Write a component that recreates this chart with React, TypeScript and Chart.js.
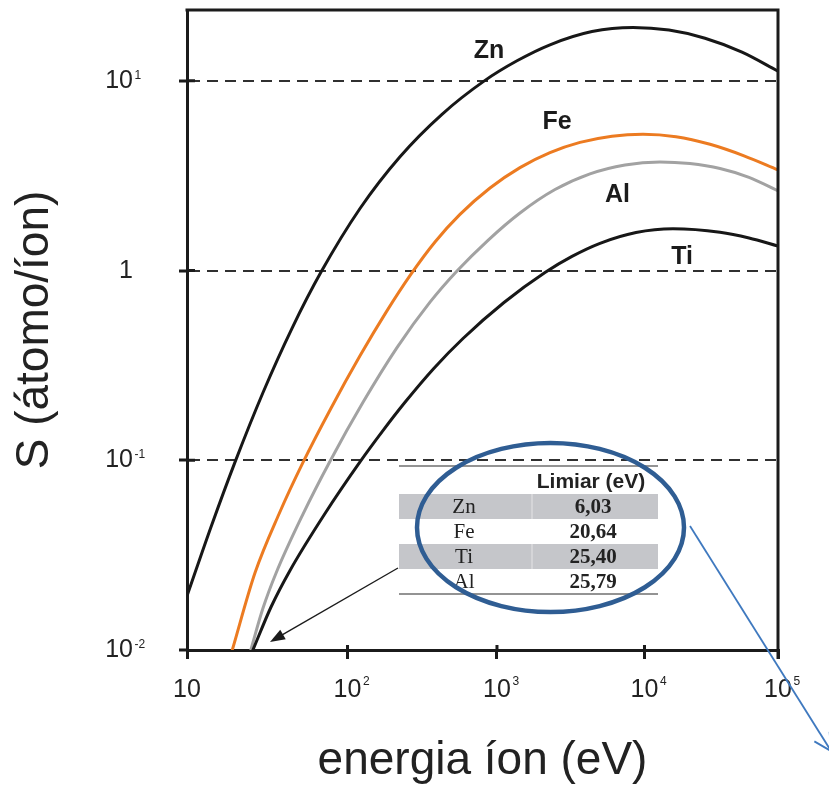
import React, { useEffect, useRef } from 'react';
import { Chart, registerables, LogarithmicScale } from 'chart.js';

// ---------------- data ----------------
const X_TICK_VALUES = [10, 100, 1000, 10000, 100000];
const X_TICK_BASES = ['10', '10', '10', '10', '10'];
const X_TICK_EXPONENTS = ['', '2', '3', '4', '5'];
// relative positions of the decades along the (slightly uneven) printed energy axis
const X_TICK_FRACTIONS = [0, 0.2716, 0.5245, 0.7741, 1];

const Y_TICK_VALUES = [0.01, 0.1, 1, 10];
const Y_TICK_BASES = ['10', '10', '1', '10'];
const Y_TICK_EXPONENTS = ['-2', '-1', '', '1'];
const Y_MIN = 0.01;
const Y_MAX = 23.6;

const SERIES_NAMES = ['Zn', 'Fe', 'Al', 'Ti'];

const ZN_ENERGY = [10, 14.11, 19.91, 29.76, 45.1, 68.39, 121.2, 224.5, 428.6, 818.6, 1367, 2287, 4406, 8356, 15257, 28396, 53743, 100000];
const ZN_SPUTTER = [0.01926, 0.04448, 0.09778, 0.2276, 0.4958, 0.9808, 2.122, 3.978, 6.657, 9.958, 12.74, 15.47, 18.16, 19.1, 18.49, 16.76, 14.16, 11.24];

const FE_ENERGY = [19.07, 26.53, 37.43, 52.81, 78.9, 121.2, 180.9, 265.9, 384.8, 565.5, 898, 1432, 2287, 3653, 6022, 9769, 17217, 30950, 55650, 100000];
const FE_SPUTTER = [0.00988, 0.02551, 0.0521, 0.09743, 0.1881, 0.3551, 0.6015, 0.9561, 1.413, 1.975, 2.721, 3.486, 4.182, 4.733, 5.103, 5.228, 5.072, 4.625, 4.022, 3.394];

const AL_ENERGY = [24.86, 29.76, 35.85, 52.81, 77.81, 126.95, 214.3, 356.3, 540, 870.7, 1432, 2474, 4271, 7378, 13065, 21920, 36780, 60650, 100000];
const AL_SPUTTER = [0.00988, 0.01663, 0.02539, 0.05203, 0.09885, 0.202, 0.3924, 0.6808, 0.9939, 1.443, 2.01, 2.672, 3.233, 3.602, 3.736, 3.66, 3.448, 3.098, 2.63];

const TI_ENERGY = [25.59, 33.38, 43.83, 72.4, 121.2, 170.1, 242.4, 378.9, 592.3, 1115.5, 2115, 3225, 4993, 8757, 16350, 36780, 60650, 100000];
const TI_SPUTTER = [0.00988, 0.01685, 0.02627, 0.05241, 0.09802, 0.1411, 0.202, 0.3055, 0.4381, 0.6783, 0.976, 1.187, 1.391, 1.586, 1.661, 1.592, 1.485, 1.345];

const LABEL_ENERGY = [884, 2552, 6562, 19100];
const LABEL_SPUTTER = [14.3, 6.05, 2.51, 1.18];

const TABLE_HEADER = 'Limiar (eV)';
const TABLE_ELEMENTS = ['Zn', 'Fe', 'Ti', 'Al'];
const TABLE_THRESHOLDS = ['6,03', '20,64', '25,40', '25,79'];

// ---------------- styles ----------------
const SANS = '"Liberation Sans", Arial, Helvetica, sans-serif';
const SERIF = '"Liberation Serif", "Times New Roman", serif';
const INK = '#1b1b1b';
const TEXT = '#222222';
const SERIES_COLORS = ['#171717', '#ec7b21', '#a2a2a2', '#171717'];
const SERIES_ORDER = [1, 2, 3, 0];

// ---------------- custom scale: log axis with the printed decade spacing ----------------
const LOG_KNOTS = X_TICK_VALUES.map((v) => Math.log10(v));

function warp(lv: number): number {
  let i = 0;
  while (i < LOG_KNOTS.length - 2 && lv > LOG_KNOTS[i + 1]) i++;
  const t = (lv - LOG_KNOTS[i]) / (LOG_KNOTS[i + 1] - LOG_KNOTS[i]);
  return X_TICK_FRACTIONS[i] + t * (X_TICK_FRACTIONS[i + 1] - X_TICK_FRACTIONS[i]);
}

function unwarp(d: number): number {
  let i = 0;
  while (i < X_TICK_FRACTIONS.length - 2 && d > X_TICK_FRACTIONS[i + 1]) i++;
  const t = (d - X_TICK_FRACTIONS[i]) / (X_TICK_FRACTIONS[i + 1] - X_TICK_FRACTIONS[i]);
  return LOG_KNOTS[i] + t * (LOG_KNOTS[i + 1] - LOG_KNOTS[i]);
}

class WarpedLogScale extends LogarithmicScale {
  static id = 'warpedLog';
  getPixelForValue(value: any) {
    if (value === undefined || value === null || !(value > 0)) return NaN;
    return this.getPixelForDecimal(warp(Math.log10(value)));
  }
  getValueForPixel(pixel: number) {
    return Math.pow(10, unwarp(this.getDecimalForPixel(pixel)));
  }
}

Chart.register(...registerables, WarpedLogScale as any);

function arrowHead(ctx: CanvasRenderingContext2D, x0: number, y0: number, x1: number, y1: number, len: number, half: number, filled: boolean) {
  const a = Math.atan2(y1 - y0, x1 - x0);
  const bx = x1 - len * Math.cos(a);
  const by = y1 - len * Math.sin(a);
  const px = -Math.sin(a) * half;
  const py = Math.cos(a) * half;
  ctx.beginPath();
  if (filled) {
    ctx.moveTo(x1, y1);
    ctx.lineTo(bx + px, by + py);
    ctx.lineTo(bx - px, by - py);
    ctx.closePath();
    ctx.fill();
  } else {
    ctx.moveTo(bx + px, by + py);
    ctx.lineTo(x1, y1);
    ctx.lineTo(bx - px, by - py);
    ctx.stroke();
  }
}

const decorPlugin = {
  id: 'decor',
  afterDraw(chart: any) {
    const { ctx, chartArea: ca } = chart;
    const xs = chart.scales.x;
    const ys = chart.scales.y;
    ctx.save();

    // frame (top and right)
    ctx.strokeStyle = INK;
    ctx.lineWidth = 3;
    ctx.lineJoin = 'miter';
    ctx.beginPath();
    ctx.moveTo(ca.left - 1.5, ca.top);
    ctx.lineTo(ca.right, ca.top);
    ctx.lineTo(ca.right, ca.bottom + 9);
    ctx.stroke();

    // inner tick stubs
    ctx.beginPath();
    Y_TICK_VALUES.forEach((v) => {
      const y = ys.getPixelForValue(v);
      if (y > ca.top + 2 && y < ca.bottom - 2) {
        ctx.moveTo(ca.left, y);
        ctx.lineTo(ca.left + 8, y);
      }
    });
    X_TICK_VALUES.forEach((v) => {
      const x = xs.getPixelForValue(v);
      if (x > ca.left + 2 && x < ca.right - 2) {
        ctx.moveTo(x, ca.bottom);
        ctx.lineTo(x, ca.bottom - 5);
      }
    });
    ctx.stroke();

    // tick labels with superscript exponents
    ctx.fillStyle = TEXT;
    ctx.textBaseline = 'alphabetic';
    X_TICK_VALUES.forEach((v, i) => {
      const x = xs.getPixelForValue(v);
      ctx.font = `25px ${SANS}`;
      ctx.textAlign = 'center';
      ctx.fillText(X_TICK_BASES[i], x, ca.bottom + 47);
      const w = ctx.measureText(X_TICK_BASES[i]).width;
      if (X_TICK_EXPONENTS[i]) {
        ctx.font = `12px ${SANS}`;
        ctx.textAlign = 'left';
        ctx.fillText(X_TICK_EXPONENTS[i], x + w / 2 + 1.5, ca.bottom + 34.5);
      }
    });
    Y_TICK_VALUES.forEach((v, i) => {
      const y = ys.getPixelForValue(v);
      const right = ca.left - 54;
      ctx.font = `25px ${SANS}`;
      ctx.textAlign = 'right';
      ctx.fillText(Y_TICK_BASES[i], right, y + 7);
      if (Y_TICK_EXPONENTS[i]) {
        ctx.font = `12px ${SANS}`;
        ctx.textAlign = 'left';
        ctx.fillText(Y_TICK_EXPONENTS[i], right + 1.5, y - 2);
      }
    });

    // curve labels
    ctx.font = `bold 25px ${SANS}`;
    ctx.textAlign = 'center';
    ctx.textBaseline = 'middle';
    ctx.fillStyle = INK;
    SERIES_NAMES.forEach((name, i) => {
      ctx.fillText(name, xs.getPixelForValue(LABEL_ENERGY[i]), ys.getPixelForValue(LABEL_SPUTTER[i]));
    });

    // inset table
    const ox = ca.left;
    const oy = ca.top;
    const tL = ox + 212;
    const tR = ox + 471;
    const rowTop = oy + 484;
    const rowH = 25;
    ctx.fillStyle = '#c5c6ca';
    TABLE_ELEMENTS.forEach((_, i) => {
      if (i % 2 === 0) ctx.fillRect(tL, rowTop + i * rowH, tR - tL, rowH);
    });
    ctx.strokeStyle = 'rgba(255,255,255,0.55)';
    ctx.lineWidth = 1;
    ctx.beginPath();
    TABLE_ELEMENTS.forEach((_, i) => {
      if (i % 2 === 0) {
        ctx.moveTo(ox + 345, rowTop + i * rowH);
        ctx.lineTo(ox + 345, rowTop + (i + 1) * rowH);
      }
    });
    ctx.stroke();
    ctx.strokeStyle = '#707070';
    ctx.lineWidth = 1.5;
    ctx.beginPath();
    ctx.moveTo(tL, oy + 456);
    ctx.lineTo(tR, oy + 456);
    ctx.moveTo(tL, rowTop + TABLE_ELEMENTS.length * rowH);
    ctx.lineTo(tR, rowTop + TABLE_ELEMENTS.length * rowH);
    ctx.stroke();

    ctx.fillStyle = TEXT;
    ctx.textAlign = 'center';
    ctx.textBaseline = 'middle';
    ctx.font = `bold 21px ${SANS}`;
    ctx.fillText(TABLE_HEADER, ox + 404, oy + 472);
    TABLE_ELEMENTS.forEach((el, i) => {
      const cy = rowTop + i * rowH + rowH / 2 + 1;
      ctx.font = `21px ${SERIF}`;
      ctx.fillText(el, ox + 277, cy);
      ctx.font = `bold 21px ${SERIF}`;
      ctx.fillText(TABLE_THRESHOLDS[i], ox + 406, cy);
    });

    // black arrow from the table to the thresholds
    ctx.strokeStyle = INK;
    ctx.fillStyle = INK;
    ctx.lineWidth = 1.4;
    const ax0 = ox + 211, ay0 = oy + 558, ax1 = ox + 83, ay1 = oy + 632;
    ctx.beginPath();
    ctx.moveTo(ax0, ay0);
    ctx.lineTo(ax1 + 10, ay1 - 5.8);
    ctx.stroke();
    arrowHead(ctx, ax0, ay0, ax1, ay1, 15, 5.5, true);

    // blue ellipse highlight
    ctx.strokeStyle = '#2f5d93';
    ctx.lineWidth = 4.5;
    ctx.beginPath();
    ctx.ellipse(ox + 363.5, oy + 517.5, 133.5, 84.5, 0, 0, Math.PI * 2);
    ctx.stroke();

    // blue pointer line leaving the figure
    ctx.strokeStyle = '#3f79bf';
    ctx.lineWidth = 1.8;
    const bx0 = ox + 503, by0 = oy + 516, bx1 = ox + 644, by1 = oy + 741;
    ctx.beginPath();
    ctx.moveTo(bx0, by0);
    ctx.lineTo(bx1, by1);
    ctx.stroke();
    arrowHead(ctx, bx0, by0, bx1, by1, 17, 9, false);

    ctx.restore();
  },
};

function points(e: number[], s: number[]) {
  return e.map((x, i) => ({ x, y: s[i] }));
}

const SERIES_DATA = [
  points(ZN_ENERGY, ZN_SPUTTER),
  points(FE_ENERGY, FE_SPUTTER),
  points(AL_ENERGY, AL_SPUTTER),
  points(TI_ENERGY, TI_SPUTTER),
];

export default function App() {
  const ref = useRef<HTMLCanvasElement>(null);

  useEffect(() => {
    const canvas = ref.current;
    if (!canvas) return;
    const chart = new Chart(canvas, {
      type: 'line',
      data: {
        datasets: SERIES_NAMES.map((name, i) => ({
          label: name,
          data: SERIES_DATA[i],
          borderColor: SERIES_COLORS[i],
          backgroundColor: SERIES_COLORS[i],
          borderWidth: 3,
          pointRadius: 0,
          fill: false,
          cubicInterpolationMode: 'monotone',
          order: SERIES_ORDER[i],
        })),
      },
      options: {
        responsive: false,
        animation: false,
        devicePixelRatio: 1,
        events: [],
        parsing: false as any,
        layout: { padding: { left: 0, top: 10, right: 51, bottom: 0 } },
        plugins: {
          legend: { display: false },
          tooltip: { enabled: false },
        },
        scales: {
          x: {
            type: 'warpedLog' as any,
            min: 10,
            max: 100000,
            afterBuildTicks: (s: any) => {
              s.ticks = X_TICK_VALUES.map((v) => ({ value: v }));
            },
            afterFit: (s: any) => {
              s.height = 135;
            },
            ticks: { display: false },
            grid: {
              drawOnChartArea: false,
              drawTicks: true,
              tickLength: 9,
              tickWidth: 3,
              tickColor: INK,
              color: INK,
              lineWidth: 3,
            },
            border: { display: true, color: INK, width: 3 },
            title: {
              display: true,
              text: 'energia íon (eV)',
              color: TEXT,
              font: { family: SANS, size: 46, lineHeight: 1.05 },
              padding: { top: 0, bottom: 0 },
            },
          },
          y: {
            type: 'logarithmic',
            min: Y_MIN,
            max: Y_MAX,
            afterBuildTicks: (s: any) => {
              s.ticks = Y_TICK_VALUES.map((v) => ({ value: v }));
            },
            afterFit: (s: any) => {
              s.width = 187;
            },
            ticks: { display: false },
            grid: {
              drawOnChartArea: true,
              drawTicks: true,
              tickLength: 8,
              tickWidth: 3,
              tickColor: INK,
              color: '#303030',
              lineWidth: 2,
            },
            border: { display: true, color: INK, width: 3, dash: [11, 7] },
            title: {
              display: true,
              text: 'S (átomo/íon)',
              color: TEXT,
              font: { family: SANS, size: 46, lineHeight: 1.05 },
              padding: { top: 11, bottom: 0 },
            },
          },
        },
      } as any,
      plugins: [decorPlugin],
    });
    return () => chart.destroy();
  }, []);

  return (
    <div style={{ position: 'absolute', left: 0, top: 0, width: 829, height: 785 }}>
      <canvas ref={ref} width={829} height={785} style={{ display: 'block', width: 829, height: 785 }} />
    </div>
  );
}
